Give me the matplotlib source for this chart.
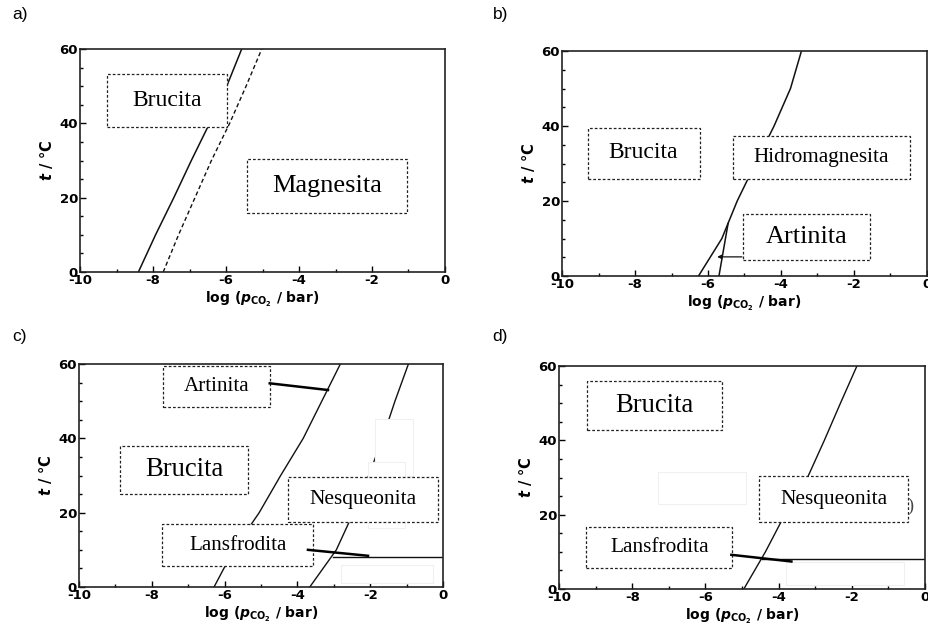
"""Stability fields of Mg carbonates / brucite: t vs log(pCO2), four panels."""

import matplotlib
matplotlib.use("Agg")
import matplotlib.pyplot as plt  # noqa: E402
from matplotlib.patches import Rectangle  # noqa: E402
from matplotlib.ticker import MultipleLocator  # noqa: E402

# ---- data (log pCO2 / bar, t / degC) ----
T_GRID = [0, 10, 20, 30, 40, 50, 60]
A_SOLID_X = [-8.40, -7.93, -7.43, -6.95, -6.45, -5.98, -5.57]
A_DASH_X = [-7.72, -7.30, -6.85, -6.40, -5.90, -5.45, -5.02]

B_MAIN_X = [-6.26, -5.62, -5.20, -4.70, -4.19, -3.74, -3.44]
B_SIDE_X = [-5.70, -5.45]
B_SIDE_T = [0.0, 14.0]
B_ARROW_X = [-5.07, -5.75]
B_ARROW_T = [5.1, 5.1]

C_LINE1_X = [-6.29, -5.75, -5.05, -4.46, -3.84, -3.33, -2.82]
C_LINE2_X = [-3.66, -2.93, -2.46, -2.04, -1.66, -1.32, -0.95]
C_FLAT_X = [-3.03, 0.0]
C_FLAT_T = [8.0, 8.0]

D_LINE_X = [-4.95, -4.36, -3.83, -3.21, -2.75, -2.31, -1.86]
D_FLAT_X = [-4.45, 0.0]
D_FLAT_T = [8.06, 8.06]

W, H = 929, 639
plt.rcParams.update({
    "font.family": "DejaVu Sans",
    "axes.unicode_minus": False,
    "mathtext.fontset": "custom",
    "mathtext.rm": "DejaVu Sans:bold",
    "mathtext.it": "DejaVu Sans:italic:bold",
    "mathtext.bf": "DejaVu Sans:bold",
})
BOX_LS = (0, (2.2, 1.6))
INK = "#111111"


def px_axes(fig, x0, y0, x1, y1):
    return fig.add_axes([x0 / W, 1 - y1 / H, (x1 - x0) / W, (y1 - y0) / H])


def style(ax):
    ax.set_xlim(-10, 0)
    ax.set_ylim(0, 60)
    ax.xaxis.set_major_locator(MultipleLocator(2))
    ax.xaxis.set_minor_locator(MultipleLocator(1))
    ax.yaxis.set_major_locator(MultipleLocator(20))
    ax.yaxis.set_minor_locator(MultipleLocator(5))
    ax.tick_params(which="both", direction="in", top=False, right=False, width=1.0)
    ax.tick_params(which="major", length=4, labelsize=9.5, pad=1.5)
    ax.tick_params(which="minor", length=2.5)
    for lab in ax.get_xticklabels() + ax.get_yticklabels():
        lab.set_fontweight("bold")
    for s in ax.spines.values():
        s.set_linewidth(1.2)
        s.set_color("#222222")
    ax.set_xlabel(r"log ($\mathit{p}_{\mathrm{CO_2}}$ / bar)", fontsize=10,
                  fontweight="bold", labelpad=2)
    ax.set_ylabel(r"$\mathit{t}$ / °C", fontsize=10.5, fontweight="bold", labelpad=3)


def box(ax, x0, x1, t0, t1, text, size):
    ax.add_patch(Rectangle((x0, t0), x1 - x0, t1 - t0, facecolor="white",
                           edgecolor="#222222", lw=0.9, ls=BOX_LS, zorder=5))
    ax.text((x0 + x1) / 2, (t0 + t1) / 2, text, ha="center", va="center",
            family="Liberation Serif", fontsize=size, zorder=6)


def ghost(ax, x0, x1, t0, t1):
    # faint leftovers of erased boxes in the original scan
    ax.add_patch(Rectangle((x0, t0), x1 - x0, t1 - t0, facecolor="white",
                           edgecolor="#f0f0f0", lw=0.8, zorder=4))


fig = plt.figure(figsize=(W / 100, H / 100), dpi=100)

# a)
ax = px_axes(fig, 80, 49, 445, 272)
style(ax)
ax.plot(A_SOLID_X, T_GRID, color=INK, lw=1.1)
ax.plot(A_DASH_X, T_GRID, color=INK, lw=1.0, ls=(0, (3, 2)))
box(ax, -9.27, -5.97, 39.1, 53.3, "Brucita", 17)
box(ax, -5.42, -1.03, 15.8, 30.4, "Magnesita", 19)

# b)
ax = px_axes(fig, 562, 51, 927, 276)
style(ax)
ax.plot(B_MAIN_X, T_GRID, color=INK, lw=1.1)
ax.plot(B_SIDE_X, B_SIDE_T, color=INK, lw=1.1)
ax.annotate("", xy=(B_ARROW_X[1], B_ARROW_T[1]), xytext=(B_ARROW_X[0], B_ARROW_T[0]),
            arrowprops=dict(arrowstyle="-|>", lw=0.9, color=INK,
                            mutation_scale=6, shrinkA=0, shrinkB=0))
box(ax, -9.30, -6.23, 26.0, 39.6, "Brucita", 17)
box(ax, -5.32, -0.47, 25.8, 37.3, "Hidromagnesita", 15.3)
box(ax, -5.04, -1.55, 4.2, 16.6, "Artinita", 18.9)

# c)
ax = px_axes(fig, 79, 364, 443, 587)
style(ax)
ax.plot(C_LINE1_X, T_GRID, color=INK, lw=1.0)
ax.plot(C_LINE2_X, T_GRID, color=INK, lw=1.0)
ax.plot(C_FLAT_X, C_FLAT_T, color=INK, lw=1.0)
ghost(ax, -1.86, -0.83, 29.8, 45.3)
ghost(ax, -2.06, -1.05, 15.9, 33.7)
ghost(ax, -2.79, -0.27, 1.1, 5.9)
box(ax, -7.69, -4.76, 48.3, 59.5, "Artinita", 15.2)
box(ax, -8.87, -5.35, 25.1, 38.0, "Brucita", 19.2)
box(ax, -4.25, -0.14, 17.6, 29.5, "Nesqueonita", 15.4)
box(ax, -7.71, -3.57, 5.6, 17.0, "Lansfrodita", 15.2)
ax.plot([-4.76, -3.16], [54.8, 53.0], color="black", lw=1.8, zorder=6)
ax.plot([-3.71, -2.06], [10.0, 8.4], color="black", lw=1.8, zorder=6)

# d)
ax = px_axes(fig, 559, 366, 925, 589)
style(ax)
ax.plot(D_LINE_X, T_GRID, color=INK, lw=1.0)
ax.plot(D_FLAT_X, D_FLAT_T, color=INK, lw=1.0)
ghost(ax, -7.30, -4.89, 23.0, 31.5)
ghost(ax, -3.80, -0.58, 1.2, 7.2)
box(ax, -9.23, -5.56, 42.8, 56.0, "Brucita", 19.2)
box(ax, -4.53, -0.46, 17.9, 30.3, "Nesqueonita", 15.4)
box(ax, -9.25, -5.27, 5.6, 16.8, "Lansfrodita", 15.4)
ax.plot([-5.29, -3.65], [9.2, 7.4], color="black", lw=1.8, zorder=6)
ax.text(-0.41, 22.2, ")", ha="center", va="center", family="Liberation Serif",
        fontsize=13, color="#444444", zorder=6)

for lab, x, y in [("a)", 12, 15), ("b)", 493, 15), ("c)", 12, 336), ("d)", 492, 337)]:
    fig.text(x / W, 1 - y / H, lab, ha="left", va="center", fontsize=12.5,
             family="Liberation Sans")

fig.savefig("out.png", dpi=100)
